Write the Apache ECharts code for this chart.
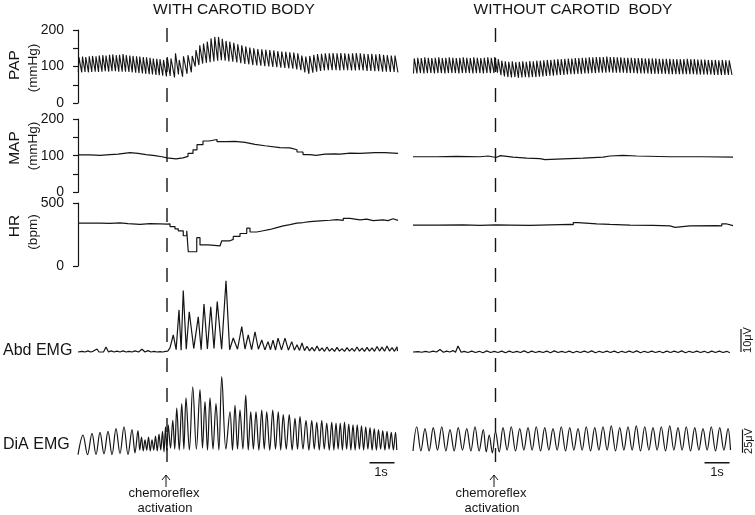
<!DOCTYPE html>
<html><head><meta charset="utf-8">
<script src="https://cdn.jsdelivr.net/npm/echarts@6/dist/echarts.min.js"></script>
<style>html,body{margin:0;padding:0;background:#fff}#c{width:755px;height:515px}</style>
</head><body><div id="c"></div>
<script>
// ---------------- DATA (time in s) ----------------
const activationT = [3.56, 3.30];           // left, right
const scaleBarSec = [11.66, 12.66];        // 1 s bar
const abdScale = [0, 10];                  // 10 µV bar
const diaScale = [-3, 22];                 // 25 µV bar

// PAP (mmHg) per beat: time, systolic, diastolic
const papLeftT = [0.04,0.18,0.31,0.45,0.58,0.72,0.85,0.99,1.12,1.26,1.39,1.53,1.66,1.80,1.93,2.07,2.20,2.34,2.47,2.61,2.74,2.88,3.01,3.15,3.28,3.42,
  3.57,3.72,3.90,4.05,4.22,4.40,4.57,
  4.72,4.87,5.02,5.17,5.32,5.47,
  5.62,5.77,5.92,
  6.07,6.23,6.39,6.55,6.71,6.87,7.03,7.19,7.35,7.51,7.67,7.83,7.99,8.15,8.31,8.47,8.63,8.79,
  8.95,9.11,9.27,
  9.43,9.58,9.74,9.89,10.05,10.20,10.36,10.51,10.67,10.82,10.98,11.13,11.29,11.44,11.60,11.75,11.91,12.06,12.22,12.37,12.53,12.68];
const papLeftSys = [125,127,126,128,129,128,130,131,130,132,133,131,132,134,131,130,129,128,127,126,125,124,122,121,120,118,
  126,122,136,118,128,131,129,
  145,158,163,168,177,181,
  181,176,170,
  168,165,161,158,155,152,150,148,147,146,145,144,142,141,140,139,138,136,
  130,127,129,
  132,134,135,136,136,137,136,137,136,135,136,137,136,135,134,135,133,134,132,131,130,130];
const papLeftDia = [84,85,84,85,86,85,86,87,86,87,87,86,86,86,85,84,83,82,81,80,79,78,77,76,75,73,
  74,70,78,72,80,84,100,
  104,108,110,112,114,116,
  117,116,114,
  113,111,109,107,106,104,103,102,101,100,99,98,97,96,95,94,92,90,
  84,80,83,
  86,88,89,90,90,90,89,90,90,89,89,90,89,88,88,87,87,86,86,85,85,84];

const papRightT = [0.05,0.19,0.33,0.47,0.61,0.75,0.89,1.03,1.17,1.31,1.45,1.59,1.73,1.87,2.01,2.15,2.29,2.43,2.57,2.71,2.85,2.99,3.13,3.27,
  3.41,3.55,3.69,3.83,3.97,4.11,4.25,4.39,4.53,4.67,4.81,4.95,
  5.09,5.23,5.37,5.51,5.65,5.79,5.93,6.07,6.21,6.35,6.49,6.63,6.77,6.91,7.05,7.19,7.33,7.47,7.61,7.75,7.89,8.03,
  8.17,8.31,8.45,8.59,8.73,8.87,9.01,9.15,9.29,9.43,9.57,9.71,9.85,9.99,10.13,10.27,10.41,10.55,10.69,10.83,10.97,11.11,11.25,11.39,11.53,11.67,11.81,11.95,12.09,12.23,12.37,12.51,12.65];
const papRightSys = [122,124,123,125,124,123,124,125,123,124,125,124,123,124,125,124,123,125,124,123,124,125,124,126,
  120,116,114,113,114,112,113,114,113,115,114,116,
  116,117,118,118,119,120,120,121,122,122,123,123,124,124,125,125,126,126,126,127,126,126,
  125,125,124,124,124,123,123,123,122,122,122,122,121,121,121,121,120,120,120,120,121,120,120,119,119,119,118,118,118,117,118,117,117];
const papRightDia = [81,82,81,82,82,81,82,82,81,82,82,82,81,82,82,82,81,82,82,81,82,82,82,83,
  76,73,71,70,71,69,70,71,70,71,71,72,
  73,74,75,75,76,77,77,78,79,79,80,80,81,81,82,82,83,83,83,84,83,83,
  83,83,82,82,82,81,81,81,81,80,80,80,80,80,79,79,79,79,79,79,79,79,78,78,78,78,78,77,77,77,77,77,77];

// MAP (mmHg) step trace: time the level starts, level
const mapLeftT = [0,0.48,0.88,1.28,1.6,1.84,2.08,2.4,2.72,3.08,3.36,3.56,3.92,4.2,4.4,4.6,4.76,5.0,5.24,5.56,5.92,6.28,6.68,7.08,7.48,8.08,8.48,8.76,9.0,9.28,9.52,9.88,10.28,10.48,10.88,11.28,11.88,12.28,12.8];
const mapLeftV = [102,101,103,104,106,108,106,103,100,97,94,91,94,98,106,116,130,140,144,138,139,136,131,127,122,121,116,110,103,101,104,105,104,107,106,108,108,106,106];
const mapRightT = [0,0.95,1.75,2.68,3.0,3.32,3.5,4.0,4.55,5.08,5.28,6.0,6.8,7.6,7.88,8.4,8.95,10.28,11.6,12.8];
const mapRightV = [97,98,97,99,95,100,96,93,92,89,91,93,96,99,101,99,97,97,96,96];

// HR (bpm) step trace
const hrLeftT = [0,0.88,1.28,1.68,2.0,2.48,2.88,3.28,3.56,3.68,3.88,4.01,4.21,4.35,4.41,4.75,4.88,5.21,5.68,5.75,6.08,6.21,6.48,6.75,6.88,7.15,7.41,7.68,7.95,8.21,8.48,8.75,9.01,9.28,9.68,10.08,10.35,10.61,10.88,11.28,11.55,11.81,12.2,12.4,12.6,12.8];
const hrLeftV = [341,338,342,337,330,336,334,332,335,313,295,279,240,279,113,225,167,159,167,200,211,235,258,300,270,280,290,305,318,328,340,345,352,358,363,368,362,378,366,372,360,366,360,375,362,362];
const hrRightT = [0,0.95,2.0,2.68,3.32,3.88,4.68,5.48,6.28,6.41,6.6,7.35,7.88,8.68,9.6,10.28,10.48,11.08,12.15,12.35,12.52,12.8];
const hrRightV = [325,327,323,326,325,322,327,330,328,345,335,330,325,322,318,307,318,320,318,335,320,318];

// Abd EMG (µV): burst peak times, peak values, following trough values
const abdLeftT = [0.16,0.40,0.60,0.76,0.92,1.12,1.32,1.56,1.80,2.04,2.28,2.56,2.80,3.04,3.28,3.50,
  3.68,3.81,4.04,4.21,4.45,4.81,5.04,5.31,5.57,5.92,6.21,6.55,6.81,7.08,7.35,7.60,7.80,8.00,8.28,8.55,8.76,8.96,
  9.16,9.36,9.56,9.76,9.96,10.16,10.36,10.56,10.76,10.96,11.16,11.36,11.56,11.76,11.96,12.16,12.36,12.56,12.76];
const abdLeftPeak = [0.3,0.5,0.3,1.3,0.4,2.2,0.5,0.4,0.5,0.3,0.5,1.2,0.6,0.3,0.2,0.3,
  1.8,7.4,18.3,26.7,17.5,15.3,20.9,19.7,21.9,31,6.1,11,7.4,8.8,5.2,4.5,5.2,6,6,4.5,3.2,3.9,
  2.5,2.0,2.6,1.8,2.2,1.6,2.0,1.5,1.9,1.6,2.2,1.7,2.0,1.8,2.4,2.1,2.6,1.9,2.3];
const abdLeftTrough = [0,0,0,0,0,0,0,0,0,0,0,0,0,0,0,0.4,
  1.5,1.0,0.8,1.2,1.5,1.0,1.3,1.5,1.2,1.0,1.2,1.3,1.0,1.2,0.9,1.0,0.8,0.9,0.8,0.8,0.7,0.6,
  0.5,0.4,0.5,0.3,0.4,0.3,0.4,0.3,0.4,0.3,0.4,0.3,0.4,0.3,0.4,0.3,0.4,0.3,0.4];
const abdRightT = [0.2,0.5,0.8,1.08,1.35,1.6,1.8,2.05,
  2.35,2.65,2.95,3.25,3.55,3.85,4.15,4.45,4.75,5.05,5.35,5.65,5.95,6.25,6.55,6.85,7.15,7.45,7.75,8.05,8.35,8.65,8.95,9.25,9.55,9.85,10.15,10.45,10.75,11.05,11.35,11.65,11.95,12.25,12.55];
const abdRightPeak = [0.2,0.3,0.4,1.1,0.4,0.6,2.6,0.3,
  0.4,0.3,0.5,0.3,0.4,0.4,0.3,0.5,0.4,0.3,0.4,0.5,0.3,0.4,0.3,0.4,0.5,0.3,0.4,0.4,0.3,0.4,0.5,0.3,0.4,0.3,0.4,0.4,0.5,0.3,0.4,0.3,0.4,0.4,0.3];
const abdRightTrough = [-0.1,-0.1,0,-0.1,0,-0.1,-0.1,-0.2,
  -0.2,-0.3,-0.2,-0.2,-0.3,-0.2,-0.2,-0.3,-0.2,-0.2,-0.3,-0.2,-0.2,-0.3,-0.2,-0.2,-0.3,-0.2,-0.2,-0.3,-0.2,-0.2,-0.3,-0.2,-0.2,-0.3,-0.2,-0.2,-0.3,-0.2,-0.2,-0.3,-0.2,-0.2,-0.3];

// DiA EMG (µV)
const diaLeftT = [0.2,0.56,0.88,1.2,1.52,1.84,2.16,
  2.40,2.54,2.68,2.82,2.96,3.10,3.24,3.38,3.50,
  3.61,3.79,3.95,4.15,4.32,4.59,4.88,5.08,5.28,5.52,5.75,6.08,6.28,6.48,6.71,6.91,7.12,7.35,7.55,7.79,8.01,8.21,8.45,8.68,8.88,9.12,9.35,9.55,9.75,9.95,
  10.15,10.32,10.49,10.66,10.83,11.00,11.17,11.34,11.51,11.68,11.85,12.02,12.19,12.36,12.53,12.70];
const diaLeftPeak = [16,18,19,20,23,25,22,
  21,14,11,14,11,15,17,20,25,
  27,32,45,50,56,68,65,52,56,50,79,41,48,43,59,41,41,43,41,43,41,38,38,34,36,32,32,30,32,29,
  30,29,29,30,28,27,27,26,25,24,23,22,21,20,19,19];
const diaLeftTrough = [-5,-5,-4,-5,-4,-5,-3,
  0,-1,0,-1,0,-1,0,-2,-1,
  2,1,0,1,0,1,2,0,1,0,1,0,1,1,0,1,0,1,0,1,0,1,0,1,1,0,1,0,1,0,
  0,1,0,1,0,0,1,0,1,0,0,1,0,1,0,0];
const diaRightT = [0.15,0.48,0.81,1.15,1.48,1.81,2.15,2.48,2.81,3.05,3.30,
  3.60,3.93,4.27,4.60,4.93,5.27,5.60,5.93,6.27,6.60,6.93,7.27,7.60,7.93,8.27,8.60,8.93,9.27,9.60,9.93,10.27,10.60,10.93,11.27,11.60,11.93,12.27,12.60];
const diaRightPeak = [25,23,24,25,22,24,23,25,22,16,20,
  24,25,23,24,25,24,23,25,24,23,25,24,25,26,24,25,26,25,24,25,26,24,25,24,23,25,24,23];
const diaRightTrough = [-1,-1,0,-1,-1,0,-1,-1,-2,-3,-2,
  0,-1,0,0,-1,0,0,-1,0,0,-1,0,0,-1,0,0,-1,0,0,-1,0,0,-1,0,0,-1,0,0];

// ---------------- LAYOUT ----------------
const FONT = '"Liberation Sans", Arial, sans-serif';
const INK = '#151515';
const L = {left: 78, width: 320, xmax: 12.8};
const R = {left: 413, width: 337.5, xmax: 13.5};
const rows = [
  {key:'pap', top:30, height:73, min:0, max:200, interval:50},
  {key:'map', top:119, height:73.3, min:0, max:200, interval:50},
  {key:'hr', top:203, height:63, min:0, max:500, interval:500},
  {key:'abd', top:269.2, height:92, min:-4, max:36},
  {key:'dia', top:375.6, height:94.9, min:-22, max:80},
  {key:'ovl', top:22, height:440, min:0, max:1}
];
const barY = -13.7; // 1 s bar level inside DiA axes

// ---------------- BUILDERS ----------------
function papLine(T, S, D) {
  const pts = [[Math.max(0, T[0] - 0.03), D[0]]];
  for (let i = 0; i < T.length; i++) {
    pts.push([T[i], S[i]]);
    const next = i < T.length - 1 ? T[i + 1] : T[i] + (T[i] - T[i - 1]);
    pts.push([T[i] + 0.78 * (next - T[i]), D[i]]);
  }
  return pts;
}
function emgLine(T, P, Tr, start, xmax) {
  const pts = [[0, start]];
  for (let i = 0; i < T.length; i++) {
    pts.push([T[i], P[i]]);
    const next = i < T.length - 1 ? T[i + 1] : Math.min(xmax, T[i] + (T[i] - T[i - 1]));
    pts.push([(T[i] + next) / 2, Tr[i]]);
  }
  return pts;
}
function stepLine(T, V) { return T.map((t, i) => [t, V[i]]); }

// ---------------- OPTION ----------------
const grid = [], xAxis = [], yAxis = [];
const idx = {};
[['L', L], ['R', R]].forEach(([side, g]) => {
  rows.forEach(r => {
    const gi = grid.length;
    idx[side + r.key] = gi;
    grid.push({left: g.left, width: g.width, top: r.top, height: r.height, containLabel: false});
    xAxis.push({gridIndex: gi, type: 'value', min: 0, max: g.xmax, show: false});
    const showAxis = side === 'L' && (r.key === 'pap' || r.key === 'map' || r.key === 'hr');
    yAxis.push({
      gridIndex: gi, type: 'value', min: r.min, max: r.max, interval: r.interval,
      show: showAxis, offset: 7,
      axisLine: {show: true, lineStyle: {color: INK, width: 1.2}},
      axisTick: {show: true, length: 5, lineStyle: {color: INK, width: 1.2}},
      axisLabel: {show: true, margin: 7, color: INK, fontSize: 14, fontFamily: FONT,
        formatter: v => (r.key === 'hr' || v % 100 === 0) ? String(v) : ''},
      splitLine: {show: false}
    });
  });
});

function trace(gi, data, extra) {
  return Object.assign({
    type: 'line', xAxisIndex: gi, yAxisIndex: gi, data: data, symbol: 'none',
    lineStyle: {color: INK, width: 1.1}, animation: false, silent: true, z: 3
  }, extra || {});
}

const series = [
  trace(idx.Lpap, papLine(papLeftT, papLeftSys, papLeftDia)),
  trace(idx.Rpap, papLine(papRightT, papRightSys, papRightDia)),
  trace(idx.Lmap, stepLine(mapLeftT, mapLeftV), {step: 'end', lineStyle: {color: INK, width: 1.2}}),
  trace(idx.Rmap, stepLine(mapRightT, mapRightV), {step: 'end', lineStyle: {color: INK, width: 1.2}}),
  trace(idx.Lhr, stepLine(hrLeftT, hrLeftV), {step: 'end', lineStyle: {color: INK, width: 1.2}}),
  trace(idx.Rhr, stepLine(hrRightT, hrRightV), {step: 'end', lineStyle: {color: INK, width: 1.2}}),
  trace(idx.Labd, emgLine(abdLeftT, abdLeftPeak, abdLeftTrough, 0, L.xmax), {lineStyle: {color: INK, width: 1.2}}),
  trace(idx.Rabd, emgLine(abdRightT, abdRightPeak, abdRightTrough, 0, 12.8), {lineStyle: {color: INK, width: 1.2}}),
  trace(idx.Ldia, emgLine(diaLeftT, diaLeftPeak, diaLeftTrough, -5, L.xmax), {smooth: 0.35, lineStyle: {color: INK, width: 1.2}}),
  trace(idx.Rdia, emgLine(diaRightT, diaRightPeak, diaRightTrough, -1, 12.8), {smooth: 0.35, lineStyle: {color: INK, width: 1.2}}),
  // dashed activation markers
  trace(idx.Lovl, [[activationT[0], 0], [activationT[0], 1]], {lineStyle: {color: INK, width: 1.4, type: [14, 16]}, z: 5}),
  trace(idx.Rovl, [[activationT[1], 0], [activationT[1], 1]], {lineStyle: {color: INK, width: 1.4, type: [14, 16]}, z: 5}),
  // scale bars
  trace(idx.Ldia, [[scaleBarSec[0], barY], [scaleBarSec[1], barY]], {lineStyle: {color: INK, width: 1.4}}),
  trace(idx.Rdia, [[scaleBarSec[0], barY], [scaleBarSec[1], barY]], {lineStyle: {color: INK, width: 1.4}}),
  trace(idx.Rabd, [[13.12, abdScale[0]], [13.12, abdScale[1]]], {lineStyle: {color: INK, width: 1.2}}),
  trace(idx.Rdia, [[13.18, diaScale[0]], [13.18, diaScale[1]]], {lineStyle: {color: INK, width: 1.2}})
];

function txt(text, x, y, size, rot, align) {
  return {type: 'text', x: x, y: y, rotation: rot || 0, silent: true,
    style: {text: text, fill: INK, font: size + 'px ' + FONT,
      textAlign: align || 'center', align: align || 'center',
      textVerticalAlign: 'middle', verticalAlign: 'middle'}};
}
function arrow(x, yTop, yBot) {
  return [
    {type: 'line', silent: true, shape: {x1: x, y1: yTop, x2: x, y2: yBot}, style: {stroke: INK, lineWidth: 1}},
    {type: 'polyline', silent: true, shape: {points: [[x - 4, yTop + 5], [x, yTop], [x + 4, yTop + 5]]}, style: {stroke: INK, lineWidth: 1, fill: null}}
  ];
}
const R90 = Math.PI / 2;
const graphic = [
  txt('WITH CAROTID BODY', 234, 10, 15.5),
  txt('WITHOUT CAROTID  BODY', 573, 10, 15.5),
  txt('PAP', 15, 65, 15.5, R90), txt('(mmHg)', 33, 68, 13.5, R90),
  txt('MAP', 15, 148, 15.5, R90), txt('(mmHg)', 33, 146, 13.5, R90),
  txt('HR', 15, 226, 15.5, R90), txt('(bpm)', 33, 232, 13.5, R90),
  txt('Abd EMG', 3, 351, 16, 0, 'left'),
  txt('DiA EMG', 3, 445, 16, 0, 'left'),
  txt('1s', 381, 472, 13), txt('1s', 717, 472, 13),
  txt('10μV', 748, 340, 11, R90), txt('25μV', 749, 441, 11, R90),
  txt('chemoreflex', 164, 493, 13), txt('activation', 165, 508, 13),
  txt('chemoreflex', 491, 493, 13), txt('activation', 492, 508, 13)
].concat(arrow(166, 475, 487)).concat(arrow(494, 475, 487));

const chart = echarts.init(document.getElementById('c'), null, {renderer: 'canvas'});
chart.setOption({
  backgroundColor: '#fff', animation: false,
  grid: grid, xAxis: xAxis, yAxis: yAxis, series: series, graphic: {elements: graphic}
});
</script>
</body></html>
